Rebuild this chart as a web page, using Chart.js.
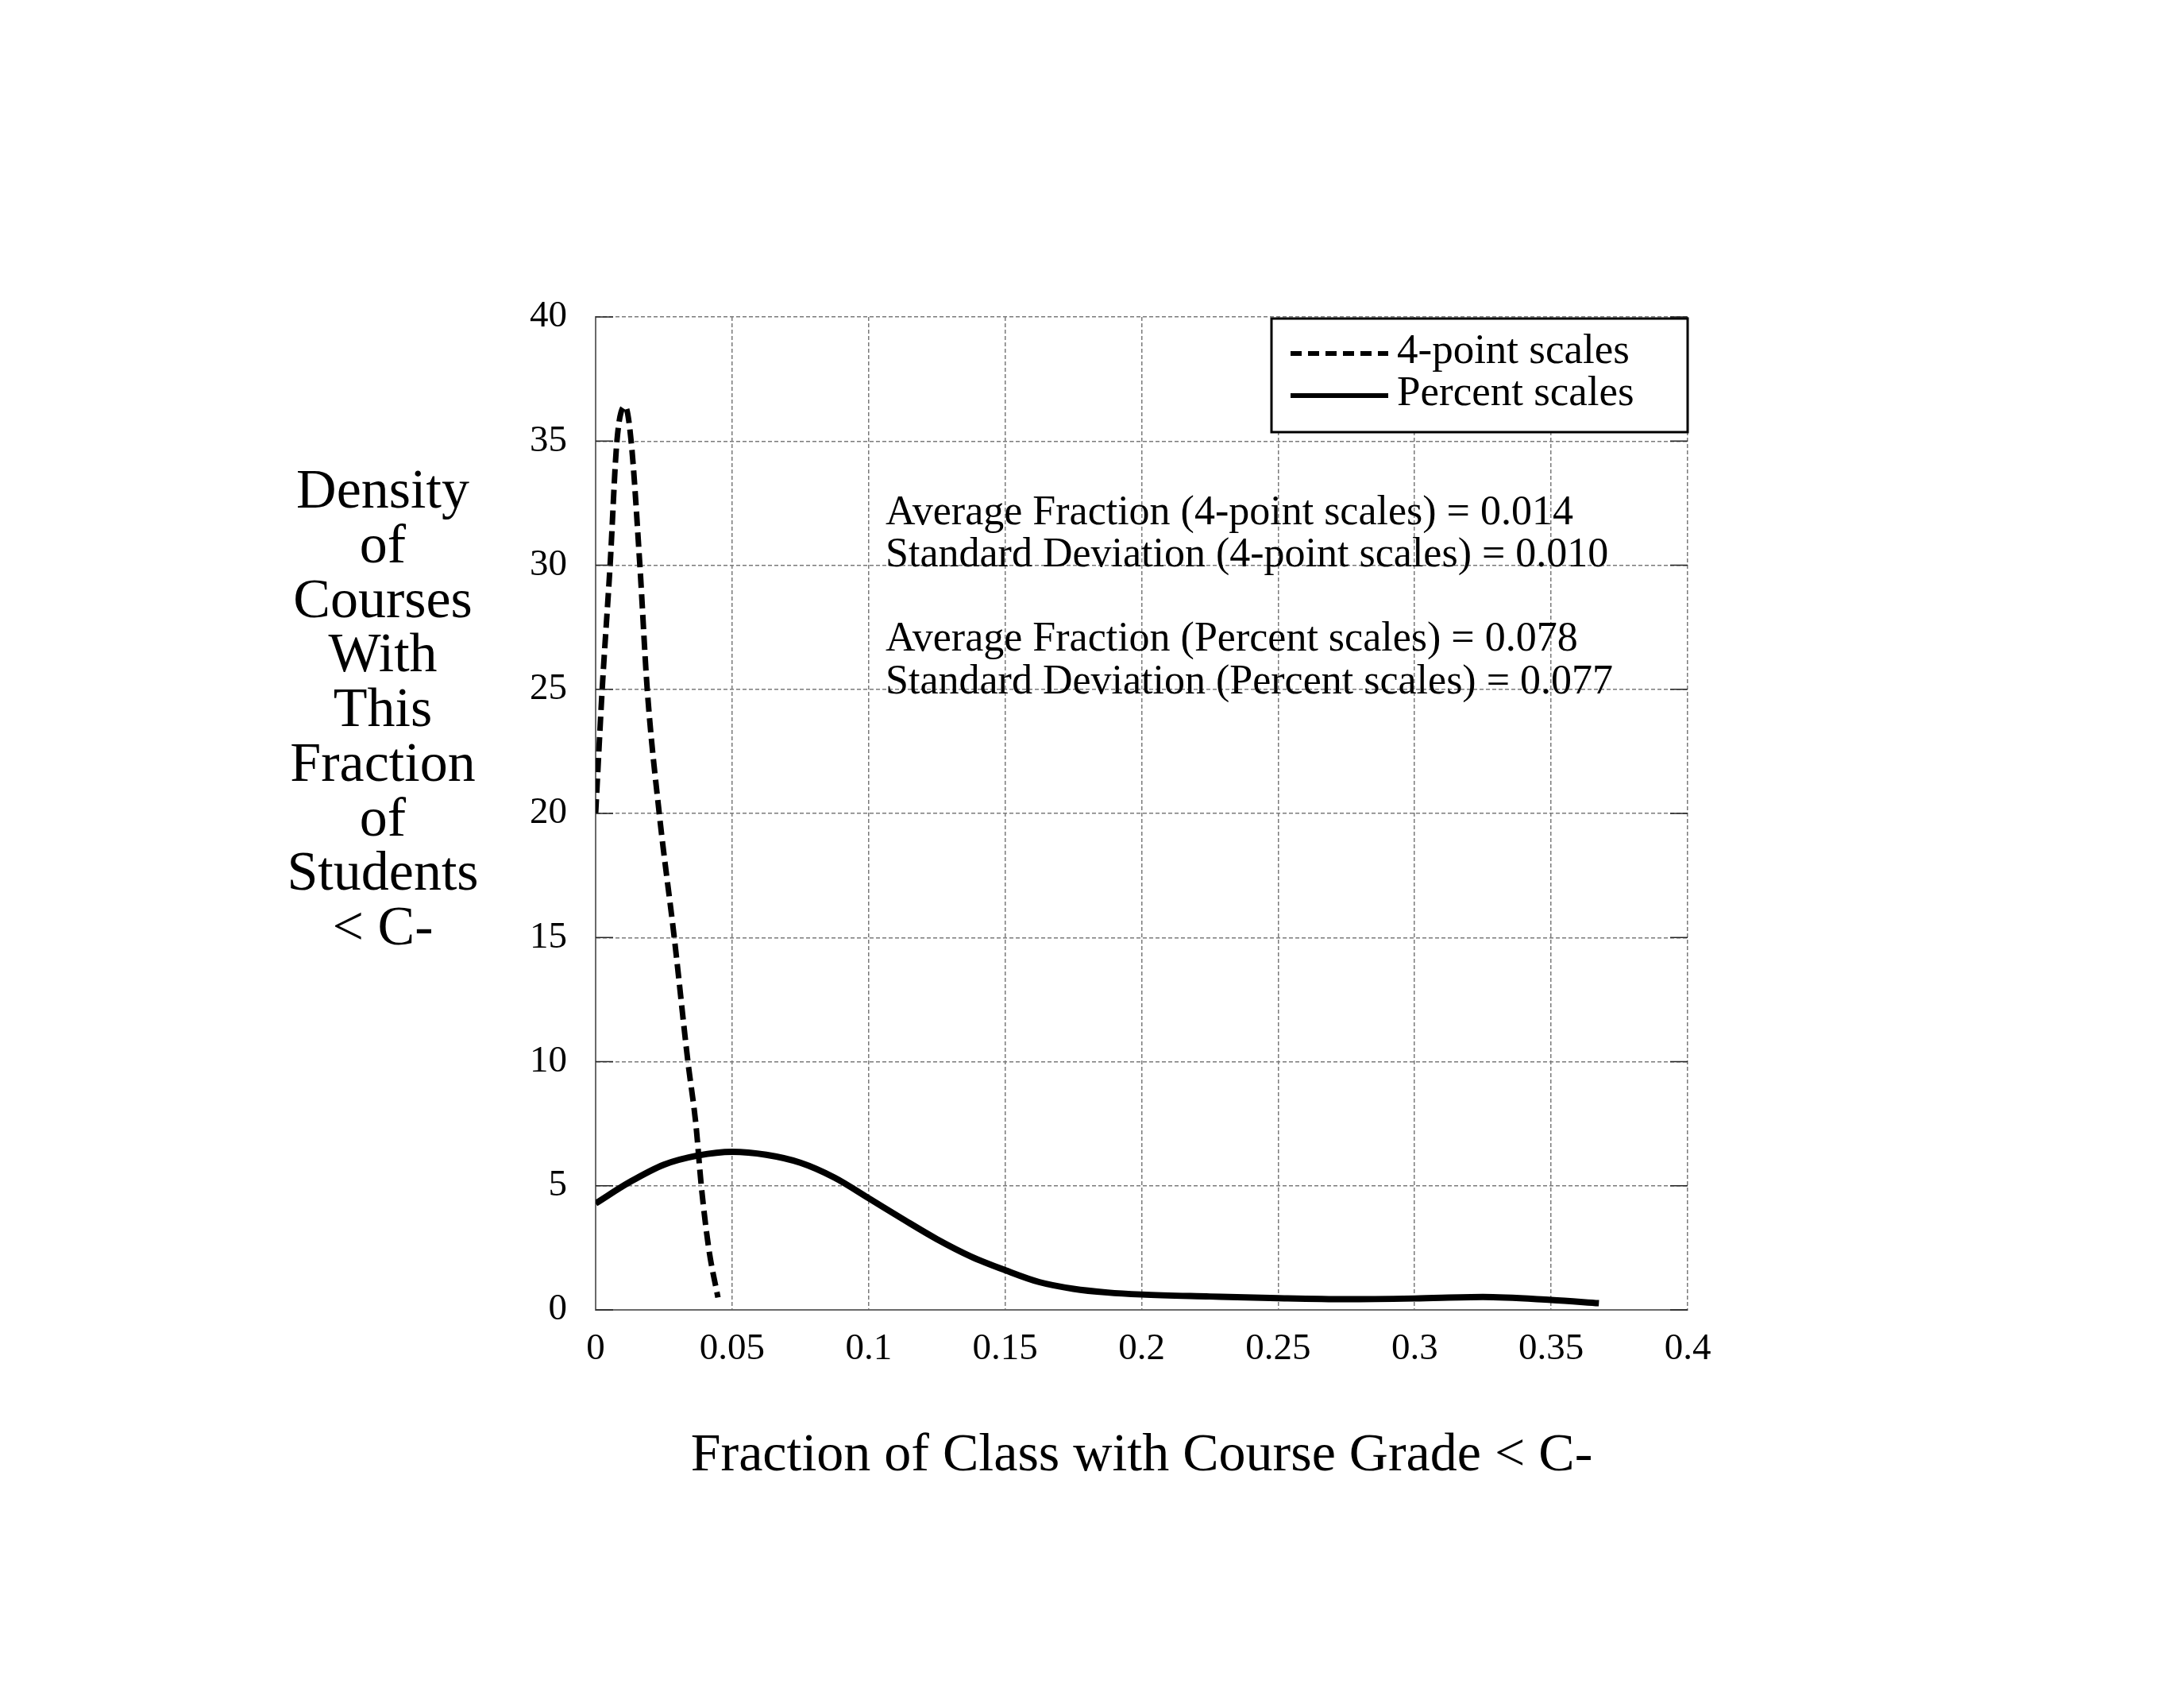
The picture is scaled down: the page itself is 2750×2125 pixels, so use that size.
<!DOCTYPE html>
<html>
<head>
<meta charset="utf-8">
<script src="https://cdn.jsdelivr.net/npm/chart.js@4.4.1/dist/chart.umd.min.js"></script>
<style>
  html, body { margin: 0; padding: 0; background: #fff; }
  #wrap { width: 2750px; height: 2125px; }
</style>
</head>
<body>
<div id="wrap"><canvas id="chart" width="2750" height="2125"></canvas></div>
<script>
// Density curves
const fourPointX = [0, 0.0024, 0.0053, 0.0078, 0.0108, 0.013, 0.0162, 0.0189, 0.0233, 0.0288, 0.0338, 0.0367, 0.0387, 0.0414, 0.0448];
const fourPointY = [20, 25, 30, 35, 36.4, 35, 30, 25, 20, 15, 10, 7.5, 5, 2.5, 0.5];

const percentX = [0, 0.0125, 0.025, 0.0375, 0.05, 0.0625, 0.075, 0.0875, 0.1, 0.1125, 0.125, 0.1375, 0.15, 0.1625, 0.175, 0.1875, 0.2, 0.225, 0.25, 0.275, 0.3, 0.325, 0.35, 0.3675];
const percentY = [4.29, 5.15, 5.85, 6.22, 6.37, 6.25, 5.93, 5.33, 4.5, 3.66, 2.85, 2.15, 1.6, 1.12, 0.85, 0.7, 0.62, 0.54, 0.47, 0.43, 0.46, 0.52, 0.4, 0.27];

const seriesLabels = ['4-point scales', 'Percent scales'];
const yTitleLines = ['Density', 'of', 'Courses', 'With', 'This', 'Fraction', 'of', 'Students', '< C-'];
const xTitle = 'Fraction of Class with Course Grade < C-';
const notes = [
    'Average Fraction (4-point scales) = 0.014',
    'Standard Deviation (4-point scales) = 0.010',
    '',
    'Average Fraction (Percent scales) = 0.078',
    'Standard Deviation (Percent scales) = 0.077'
];

const SERIF = '"Liberation Serif", "DejaVu Serif", serif';
const toPoints = (xs, ys) => xs.map((x, i) => ({ x: x, y: ys[i] }));

// titles, stats text, inner ticks and boxed legend
const decorations = {
    id: 'decorations',
    afterDraw(chart) {
        const ctx = chart.ctx;
        const area = chart.chartArea;
        const xs = chart.scales.x;
        const ys = chart.scales.y;
        ctx.save();

        // inward tick marks on left and right
        ctx.strokeStyle = '#222';
        ctx.lineWidth = 1.5;
        ctx.setLineDash([]);
        ys.ticks.forEach(t => {
            const py = ys.getPixelForValue(t.value);
            ctx.beginPath();
            ctx.moveTo(area.left, py);
            ctx.lineTo(area.left + 22, py);
            ctx.moveTo(area.right, py);
            ctx.lineTo(area.right - 22, py);
            ctx.stroke();
        });

        ctx.fillStyle = '#000';

        // y title, stacked lines
        ctx.font = '70px ' + SERIF;
        ctx.textAlign = 'center';
        ctx.textBaseline = 'middle';
        yTitleLines.forEach((line, i) => {
            ctx.fillText(line, 482, 621 + i * 68.7);
        });

        // x title
        ctx.font = '68px ' + SERIF;
        ctx.fillText(xTitle, (area.left + area.right) / 2, 1833);

        // stats block
        ctx.font = '52px ' + SERIF;
        ctx.textAlign = 'left';
        const nx = xs.getPixelForValue(0.1062);
        let ny = ys.getPixelForValue(32.1);
        notes.forEach(line => {
            if (line) ctx.fillText(line, nx, ny);
            ny += 53.3;
        });

        // legend box in top right corner
        const boxW = 524, boxH = 143;
        const bx = area.right - boxW, by = area.top + 2;
        ctx.fillStyle = '#fff';
        ctx.fillRect(bx, by, boxW, boxH);
        ctx.strokeStyle = '#000';
        ctx.lineWidth = 3;
        ctx.strokeRect(bx, by, boxW, boxH);
        ctx.font = '53px ' + SERIF;
        ctx.fillStyle = '#000';
        chart.data.datasets.forEach((ds, i) => {
            const ly = by + 44 + i * 53;
            ctx.beginPath();
            ctx.lineWidth = 6;
            ctx.setLineDash(ds.borderDash && ds.borderDash.length ? [14, 8] : []);
            ctx.moveTo(bx + 24, ly);
            ctx.lineTo(bx + 147, ly);
            ctx.stroke();
            ctx.setLineDash([]);
            ctx.fillText(ds.label, bx + 158, ly - 2);
        });

        ctx.restore();
    }
};

const whiteBg = {
    id: 'whiteBg',
    beforeDraw(chart) {
        const ctx = chart.ctx;
        ctx.save();
        ctx.fillStyle = '#fff';
        ctx.fillRect(0, 0, chart.width, chart.height);
        ctx.restore();
    }
};

const gridStyle = {
    color: '#7a7a7a',
    lineWidth: 1.5,
    drawTicks: false
};
// in v4 border.dash also dashes the grid lines
const borderStyle = { color: '#6a6a6a', width: 2, dash: [5, 3] };

new Chart(document.getElementById('chart'), {
    type: 'line',
    data: {
        datasets: [
            {
                label: seriesLabels[0],
                data: toPoints(fourPointX, fourPointY),
                borderColor: '#000',
                borderWidth: 7,
                borderDash: [18, 8],
                pointRadius: 0,
                cubicInterpolationMode: 'monotone',
                fill: false
            },
            {
                label: seriesLabels[1],
                data: toPoints(percentX, percentY),
                borderColor: '#000',
                borderWidth: 8,
                pointRadius: 0,
                cubicInterpolationMode: 'monotone',
                fill: false
            }
        ]
    },
    options: {
        responsive: false,
        animation: false,
        layout: { padding: { left: 0, top: 399, right: 625, bottom: 376 } },
        plugins: {
            legend: { display: false },
            tooltip: { enabled: false }
        },
        scales: {
            x: {
                type: 'linear',
                min: 0,
                max: 0.4,
                grid: gridStyle,
                border: borderStyle,
                afterFit: s => { s.height = 100; },
                ticks: {
                    stepSize: 0.05,
                    padding: 21,
                    color: '#000',
                    font: { family: SERIF, size: 47 },
                    callback: v => String(+v.toFixed(2))
                }
            },
            y: {
                min: 0,
                max: 40,
                grid: gridStyle,
                border: borderStyle,
                afterFit: s => { s.width = 750; },
                ticks: {
                    stepSize: 5,
                    padding: 36,
                    color: '#000',
                    font: { family: SERIF, size: 47 }
                }
            }
        }
    },
    plugins: [whiteBg, decorations]
});
</script>
</body>
</html>
